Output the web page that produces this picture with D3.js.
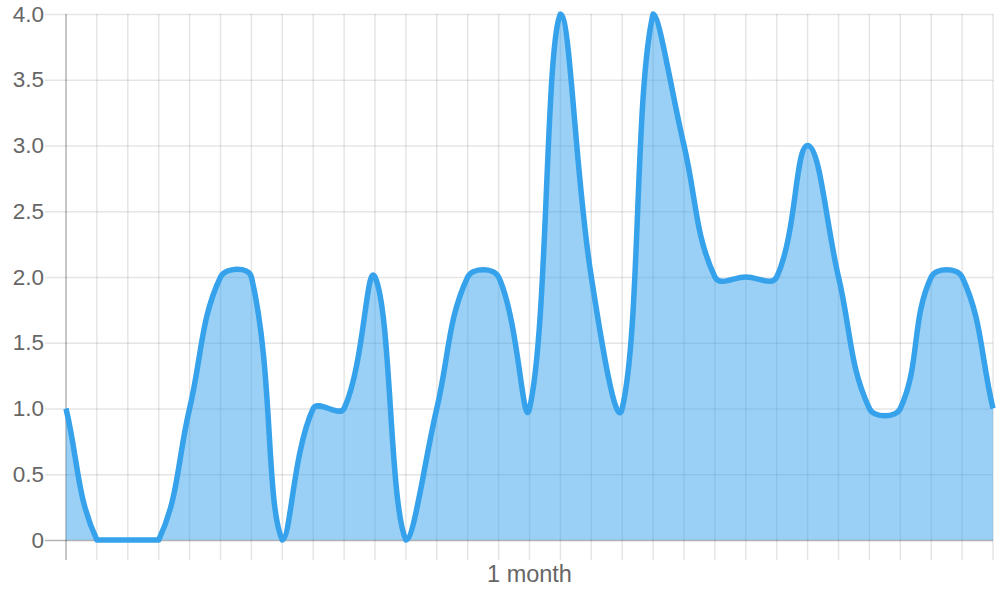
<!DOCTYPE html>
<html>
<head>
<meta charset="utf-8">
<script src="https://cdn.jsdelivr.net/npm/d3@7"></script>
<style>
  html, body { margin: 0; padding: 0; background: #fff; }
  svg { display: block; }
</style>
</head>
<body>
<svg id="chart" width="1000" height="600"></svg>
<script>
// ---- data ----
const xLabels = ["", "", "", "", "", "", "", "", "", "", "", "", "", "", "", "1 month",
  "", "", "", "", "", "", "", "", "", "", "", "", "", "", ""];
const values = [1, 0, 0, 0, 1, 2, 2, 0, 1, 1, 2, 0, 1, 2, 2, 1, 4, 2, 1, 4, 3, 2, 2, 2, 3, 2, 1, 1, 2, 2, 1];
const yTicks = [0, 0.5, 1, 1.5, 2, 2.5, 3, 3.5, 4];
const yTickLabels = ["0", "0.5", "1.0", "1.5", "2.0", "2.5", "3.0", "3.5", "4.0"];

// ---- layout ----
const area = { left: 66, right: 993, top: 14, bottom: 540 };
const svg = d3.select("#chart");

const x = d3.scalePoint().domain(d3.range(values.length)).range([area.left, area.right]);
const y = d3.scaleLinear().domain([0, 4]).range([area.bottom, area.top]);

const gridColor = "rgba(0,0,0,0.1)";
const axisColor = "rgba(0,0,0,0.3)";
const textColor = "#666";
const font = "'Liberation Sans', Arial, Helvetica, sans-serif";

// grid: horizontal
const gy = svg.append("g");
gy.selectAll("line").data(yTicks).join("line")
  .attr("x1", area.left - 21).attr("x2", area.right)
  .attr("y1", d => y(d) + 0.5).attr("y2", d => y(d) + 0.5)
  .attr("stroke", d => d === 0 ? axisColor : gridColor).attr("stroke-width", 1.5);
gy.selectAll("text").data(yTicks).join("text")
  .attr("x", area.left - 22).attr("y", d => y(d))
  .attr("text-anchor", "end").attr("dominant-baseline", "central")
  .attr("fill", textColor).attr("font-family", font).attr("font-size", 22.5)
  .text((d, i) => yTickLabels[i]);

// grid: vertical
const gx = svg.append("g");
gx.selectAll("line").data(d3.range(values.length)).join("line")
  .attr("x1", d => x(d)).attr("x2", d => x(d))
  .attr("y1", area.top).attr("y2", area.bottom + 20)
  .attr("stroke", d => d === 0 ? axisColor : gridColor).attr("stroke-width", 1.5);
gx.selectAll("text").data(d3.range(values.length)).join("text")
  .attr("x", d => x(d)).attr("y", area.bottom + 42)
  .attr("text-anchor", "middle")
  .attr("fill", textColor).attr("font-family", font).attr("font-size", 23.5)
  .text(d => xLabels[d]);

// ---- Chart.js style spline (tension 0.4, capped control points) ----
const pts = values.map((v, i) => ({ x: x(i), y: y(v) }));
const t = 0.4;
const clamp = (v, a, b) => Math.max(a, Math.min(b, v));
pts.forEach((cur, i) => {
  const prev = pts[i - 1] || cur, next = pts[i + 1] || cur;
  const d01 = Math.hypot(cur.x - prev.x, cur.y - prev.y);
  const d12 = Math.hypot(next.x - cur.x, next.y - cur.y);
  let s01 = d01 / (d01 + d12), s12 = d12 / (d01 + d12);
  if (isNaN(s01)) s01 = 0; if (isNaN(s12)) s12 = 0;
  const fa = t * s01, fb = t * s12;
  cur.cpx0 = clamp(cur.x - fa * (next.x - prev.x), area.left, area.right);
  cur.cpy0 = clamp(cur.y - fa * (next.y - prev.y), area.top, area.bottom);
  cur.cpx1 = clamp(cur.x + fb * (next.x - prev.x), area.left, area.right);
  cur.cpy1 = clamp(cur.y + fb * (next.y - prev.y), area.top, area.bottom);
});
function buildPath(p) {
  pts.forEach((c, i) => {
    if (i === 0) p.moveTo(c.x, c.y);
    else {
      const pr = pts[i - 1];
      p.bezierCurveTo(pr.cpx1, pr.cpy1, c.cpx0, c.cpy0, c.x, c.y);
    }
  });
  return p;
}
const areaPath = buildPath(d3.path());
areaPath.lineTo(pts[pts.length - 1].x, y(0));
areaPath.lineTo(pts[0].x, y(0));
areaPath.closePath();

svg.append("path").attr("d", areaPath.toString())
  .attr("fill", "rgba(54,162,235,0.5)");
svg.append("path").attr("d", buildPath(d3.path()).toString())
  .attr("fill", "none").attr("stroke", "#36A2EB").attr("stroke-width", 5.5)
  .attr("stroke-linejoin", "round");
</script>
</body>
</html>
